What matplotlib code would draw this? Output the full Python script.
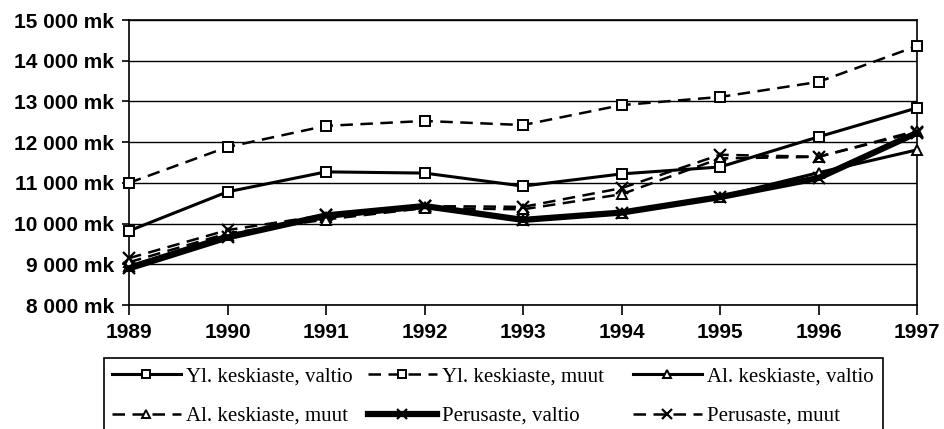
import matplotlib
matplotlib.use("Agg")
import matplotlib.pyplot as plt
from matplotlib.patches import Rectangle
from matplotlib.ticker import FuncFormatter

years = [1989, 1990, 1991, 1992, 1993, 1994, 1995, 1996, 1997]

yl_valtio = [9820, 10780, 11270, 11240, 10920, 11220, 11390, 12130, 12840]
yl_muut = [11000, 11880, 12400, 12520, 12420, 12910, 13110, 13480, 14360]
al_valtio = [8950, 9720, 10150, 10400, 10080, 10260, 10660, 11250, 11810]
al_muut = [9050, 9760, 10100, 10380, 10350, 10720, 11600, 11640, 12280]
perus_valtio = [8900, 9660, 10200, 10430, 10090, 10270, 10650, 11120, 12230]
perus_muut = [9150, 9840, 10210, 10430, 10410, 10870, 11690, 11640, 12250]

labels = ["Yl. keskiaste, valtio", "Yl. keskiaste, muut", "Al. keskiaste, valtio",
          "Al. keskiaste, muut", "Perusaste, valtio", "Perusaste, muut"]

W, H = 944, 429
fig = plt.figure(figsize=(W/100, H/100), dpi=100)
ax = fig.add_axes([129/W, 1-305/H, (917-129)/W, (305-20)/H])

sq = dict(marker="s", markersize=7.5, markerfacecolor="white", markeredgecolor="black", markeredgewidth=1.4)
tri = dict(marker="^", markersize=7, markerfacecolor="white", markeredgecolor="black", markeredgewidth=1.4)
xm = dict(marker="x", markersize=9, markeredgecolor="black", markeredgewidth=1.6)
dash = (0, (5, 3))

l1, = ax.plot(years, yl_valtio, color="black", lw=2.2, **sq, zorder=5, clip_on=False)
l2, = ax.plot(years, yl_muut, color="black", lw=1.8, ls=dash, **sq, zorder=5, clip_on=False)
l3, = ax.plot(years, al_valtio, color="black", lw=2.2, **tri, zorder=3, clip_on=False)
l4, = ax.plot(years, al_muut, color="black", lw=1.8, ls=dash, **tri, zorder=3, clip_on=False)
l5, = ax.plot(years, perus_valtio, color="black", lw=4.5, **xm, zorder=4, clip_on=False)
l6, = ax.plot(years, perus_muut, color="black", lw=1.8, ls=dash, **xm, zorder=4, clip_on=False)

ax.set_xlim(1989, 1997)
ax.set_ylim(8000, 15000)
ax.set_xticks(years)
ax.set_yticks(range(8000, 15001, 1000))
ax.yaxis.set_major_formatter(FuncFormatter(lambda v, p: "{:,.0f} mk".format(v).replace(",", " ")))
ax.grid(axis="y", color="black", lw=1)
ax.set_axisbelow(True)
for s in ax.spines.values():
    s.set_color("black")
    s.set_linewidth(1.2)

ax.tick_params(axis="x", direction="out", length=7, width=1.2, pad=6)
ax.tick_params(axis="y", direction="out", length=5, width=1.2, pad=6)
for t in ax.get_xticklabels() + ax.get_yticklabels():
    t.set_fontfamily("Liberation Sans")
    t.set_fontweight("bold")
    t.set_fontsize(15)

# legend: three columns of equal width, like the original, inside one frame
lines = [l1, l2, l3, l4, l5, l6]
col_x = [112, 368, 633]
for c in range(3):
    hs = [lines[c], lines[c + 3]]
    ls_ = [labels[c], labels[c + 3]]
    lg = fig.legend(hs, ls_, loc="upper left",
                    bbox_to_anchor=(col_x[c]/W, 1-367/H), bbox_transform=fig.transFigure,
                    prop={"family": "Liberation Serif", "size": 15},
                    handlelength=3.3, handletextpad=0.25, numpoints=1,
                    frameon=False, borderaxespad=0, borderpad=0,
                    labelspacing=0.95, markerscale=0.75)
fig.add_artist(Rectangle((104/W, -0.02), (883-104)/W, 0.02 + 1-358/H,
                         transform=fig.transFigure, fill=False, edgecolor="black", lw=1.2))

fig.savefig("out.png", dpi=100)
